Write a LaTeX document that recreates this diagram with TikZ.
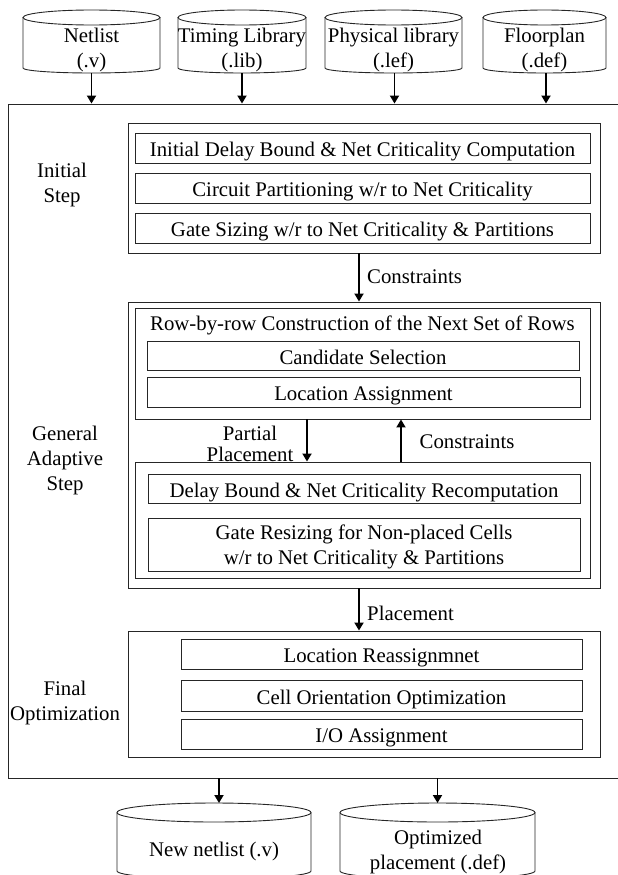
\documentclass[tikz,border=0pt]{standalone}
\usepackage{fontspec}
\setmainfont{Liberation Serif}
\usetikzlibrary{arrows.meta}
\newcommand\dbcyl[6]{% left, right, top-centre y, top ry, side bottom y, bottom ry
  \draw[cylline] ({(#1+#2)/2},#3) ellipse [x radius={(#2-#1)/2*1pt}, y radius=#4pt];
  \draw[cylline] (#1,#3) -- (#1,#5) arc[start angle=180,end angle=360,x radius={(#2-#1)/2*1pt},y radius=#6pt] -- (#2,#3);
}
\begin{document}
\begin{tikzpicture}[x=1pt,y=-1pt,
  every node/.style={font=\fontsize{20.8}{25}\selectfont, text=black},
  box/.style={draw=black!85, line width=0.9pt, inner sep=0pt, align=center},
  onebox/.style={box, text height=17pt, text depth=0pt},
  lbl/.style={inner sep=0pt, align=center},
  arr/.style={line width=1.8pt, -{Triangle[length=8pt,width=9pt]}},
  cylline/.style={draw=black!85, line width=0.9pt}]
\useasboundingbox (0,0) rectangle (618,875);
\clip (0,0) rectangle (618,875);

% input cylinders
\dbcyl{23}{160}{17.5}{7.5}{68}{5}
\dbcyl{178}{306}{17.5}{7.5}{68}{5}
\dbcyl{325}{462}{17.5}{7.5}{68}{5}
\dbcyl{483}{606}{17.5}{7.5}{68}{5}
\node[lbl] (netlist) at (91.5,50) {Netlist\\(.v)};
\node[lbl] (timing) at (242,50) {Timing Library\\(.lib)};
\node[lbl] (phys) at (393.5,50) {Physical library\\(.lef)};
\node[lbl] (floor) at (544.5,50) {Floorplan\\(.def)};
\coordinate (netlistb) at (91.5,73);
\coordinate (timingb) at (242,73);
\coordinate (physb) at (394.5,73);
\coordinate (floorb) at (546,73);

% outer frame (runs past the right edge)
\node[box, minimum width=632pt, minimum height=674pt] (outer) at (324,441) {};

\draw[arr] (netlistb) -- (netlistb |- outer.north);
\draw[arr] (timingb) -- (timingb |- outer.north);
\draw[arr] (physb) -- (physb |- outer.north);
\draw[arr] (floorb) -- (floorb |- outer.north);

% Initial step
\node[lbl] (initlbl) at (62,185) {Initial\\Step};
\node[box, minimum width=472pt, minimum height=130pt] (initbox) at (364,188) {};
\node[onebox, minimum width=455pt, minimum height=30pt] (b1) at (362.5,148) {Initial Delay Bound \& Net Criticality Computation};
\node[onebox, minimum width=455pt, minimum height=30pt] (b2) at (362.5,188) {Circuit Partitioning w/r to Net Criticality};
\node[onebox, minimum width=455pt, minimum height=30pt] (b3) at (362.5,228) {Gate Sizing w/r to Net Criticality \& Partitions};

% General adaptive step
\node[lbl] (gaslbl) at (65,460) {General\\Adaptive\\Step};
\node[box, minimum width=472pt, minimum height=286pt] (gasbox) at (364,445) {};
\node[box, minimum width=455pt, minimum height=111pt] (rowbox) at (362.5,363.5) {};
\node[lbl, text height=17pt, text depth=0pt] (rowtitle) at (362.5,322) {Row-by-row Construction of the Next Set of Rows};
\node[onebox, minimum width=432pt, minimum height=29pt] (cand) at (363,355.5) {Candidate Selection};
\node[onebox, minimum width=433pt, minimum height=30pt] (loc) at (363.5,392) {Location Assignment};
\node[box, minimum width=455pt, minimum height=116pt] (lowbox) at (362.5,520) {};
\node[onebox, minimum width=432pt, minimum height=29pt] (delay) at (364,488.5) {Delay Bound \& Net Criticality Recomputation};
\node[box, minimum width=432pt, minimum height=53pt] (gate) at (364,544.5) {};
\node[lbl] (gatetext) at (364,547) {Gate Resizing for Non-placed Cells\\w/r to Net Criticality \& Partitions};

\coordinate (ax1) at (359,0);
\draw[arr] (initbox.south -| ax1) -- (gasbox.north -| ax1);
\node[lbl, anchor=west] (con1) at (367,277) {Constraints};

\coordinate (ax2) at (307,0);
\coordinate (ax3) at (401,0);
\draw[arr] (rowbox.south -| ax2) -- (lowbox.north -| ax2);
\draw[arr] (lowbox.north -| ax3) -- (rowbox.south -| ax3);
\node[lbl, font=\fontsize{20.8}{21}\selectfont] (pp) at (250,444) {Partial\\Placement};
\node[lbl] (con2) at (467,442) {Constraints};

% Final optimization
\node[lbl] (finlbl) at (65,703) {Final\\Optimization};
\node[box, minimum width=472pt, minimum height=126pt] (finbox) at (364,694) {};
\node[onebox, minimum width=401pt, minimum height=30pt] (locr) at (381.5,654) {Location Reassignmnet};
\node[onebox, minimum width=401pt, minimum height=31pt] (cell) at (381.5,695.5) {Cell Orientation Optimization};
\node[onebox, minimum width=401pt, minimum height=30pt] (io) at (381.5,734) {I/O Assignment};

\draw[arr] (gasbox.south -| ax1) -- (finbox.north -| ax1);
\node[lbl, anchor=west] (plc) at (367,613) {Placement};

% output cylinders
\dbcyl{117}{311}{812.5}{9.5}{871}{8}
\dbcyl{340}{535}{812.5}{9.5}{871}{8}
\node[lbl] (newnet) at (214,851) {New netlist (.v)};
\node[lbl] (optpl) at (438,851.5) {Optimized\\placement (.def)};
\coordinate (newnett) at (219,803);
\coordinate (optplt) at (437.5,803);
\draw[arr] (outer.south -| newnett) -- (newnett);
\draw[arr] (outer.south -| optplt) -- (optplt);
\end{tikzpicture}
\end{document}
